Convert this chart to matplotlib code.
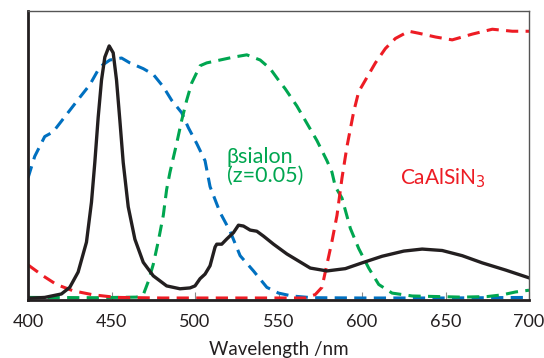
import matplotlib
matplotlib.use("Agg")
import matplotlib.pyplot as plt

plt.rcParams['font.family'] = ['Lato', 'DejaVu Sans']

# emission spectrum (solid black)
em_nm = [400, 410, 420, 425, 430, 435, 438, 440, 442, 444, 446, 448.6, 451, 453, 455, 457,
         460, 464, 469, 475, 483, 491, 497, 500, 503, 506, 509, 512, 513, 516, 519, 523,
         526, 529, 533, 537, 541, 547, 555, 563, 569, 579, 590, 600, 612, 625, 636, 648,
         660, 672, 686, 700]
em_val = [0.002, 0.005, 0.017, 0.04, 0.093, 0.197, 0.336, 0.474, 0.63, 0.76, 0.84, 0.879, 0.855,
          0.76, 0.62, 0.474, 0.32, 0.207, 0.127, 0.08, 0.045, 0.035, 0.038, 0.045, 0.07,
          0.086, 0.115, 0.18, 0.19, 0.19, 0.208, 0.23, 0.256, 0.253, 0.239, 0.235, 0.218,
          0.19, 0.156, 0.128, 0.107, 0.097, 0.105, 0.125, 0.148, 0.166, 0.173, 0.168, 0.15,
          0.125, 0.1, 0.073]

# blue dashed
blue_nm = [400, 404, 410, 415, 423, 431, 437, 443, 449, 456, 461, 469, 475, 481, 486, 492,
           496, 501, 506, 509, 515, 521, 527, 535, 543, 550, 558, 570, 600, 650, 700]
blue_val = [0.42, 0.495, 0.564, 0.58, 0.64, 0.70, 0.744, 0.806, 0.83, 0.837, 0.82, 0.80, 0.78,
            0.737, 0.69, 0.647, 0.595, 0.54, 0.48, 0.39, 0.30, 0.235, 0.15, 0.097, 0.04,
            0.02, 0.01, 0.004, 0.003, 0.003, 0.005]

# green dashed (beta-sialon)
green_nm = [400, 440, 465, 469, 472, 475, 478, 481, 483, 485, 489, 492, 495, 498, 503, 507,
            515, 523, 531, 539, 545, 550, 554, 561, 567, 573, 579, 582, 584, 588, 593, 598,
            604, 610, 618, 630, 660, 675, 684, 692, 700]
green_val = [0.005, 0.004, 0.006, 0.014, 0.06, 0.12, 0.2, 0.29, 0.38, 0.44, 0.54, 0.62, 0.69,
             0.75, 0.81, 0.82, 0.83, 0.84, 0.848, 0.83, 0.80, 0.76, 0.73, 0.67, 0.61, 0.55,
             0.48, 0.44, 0.39, 0.35, 0.245, 0.175, 0.107, 0.05, 0.02, 0.01, 0.006, 0.008,
             0.014, 0.024, 0.03]

# red dashed (CaAlSiN3)
red_nm = [400, 409, 417, 427, 439, 453, 480, 520, 566, 572, 576, 579, 582, 585, 588, 591,
          595, 598, 602, 608, 614, 620, 628, 634, 644, 654, 666, 678, 690, 700]
red_val = [0.118, 0.08, 0.05, 0.028, 0.014, 0.005, 0.003, 0.003, 0.003, 0.015, 0.04, 0.12,
           0.2, 0.29, 0.42, 0.53, 0.65, 0.72, 0.76, 0.82, 0.87, 0.905, 0.93, 0.923, 0.91,
           0.90, 0.92, 0.937, 0.93, 0.93]

xticks = [400, 450, 500, 550, 600, 650, 700]

fig = plt.figure(figsize=(5.44, 3.58), dpi=100)
ax = fig.add_axes([0.0515, 0.162, 0.921, 0.807])

dash = (4, 2.4)
ax.plot(blue_nm, blue_val, color='#0070C0', lw=2.2, dashes=dash)
ax.plot(green_nm, green_val, color='#00A650', lw=2.2, dashes=dash)
ax.plot(red_nm, red_val, color='#ED1C24', lw=2.2, dashes=dash)
ax.plot(em_nm, em_val, color='#231F20', lw=2.4)

ax.set_xlim(400, 700)
ax.set_ylim(-0.004, 1.0)
ax.set_xticks(xticks)
ax.set_yticks([])
ax.tick_params(axis='x', direction='in', length=6, width=0.8, color='#888888',
               labelsize=13, pad=10, labelcolor='#231F20')
for s in ['top', 'right']:
    ax.spines[s].set_color('#555555')
    ax.spines[s].set_linewidth(1.0)
for s in ['bottom', 'left']:
    ax.spines[s].set_color('#231F20')
    ax.spines[s].set_linewidth(2.0)
ax.set_xlabel('Wavelength /nm', fontsize=13.5, color='#231F20', labelpad=8)

ax.text(519, 0.46, 'βsialon\n(z=0.05)', color='#00A650', fontsize=15.5,
        ha='left', va='center', linespacing=0.9)
ax.text(623, 0.42, 'CaAlSiN$_3$', color='#ED1C24', fontsize=15,
        ha='left', va='center')

fig.savefig('out.png', dpi=100)
